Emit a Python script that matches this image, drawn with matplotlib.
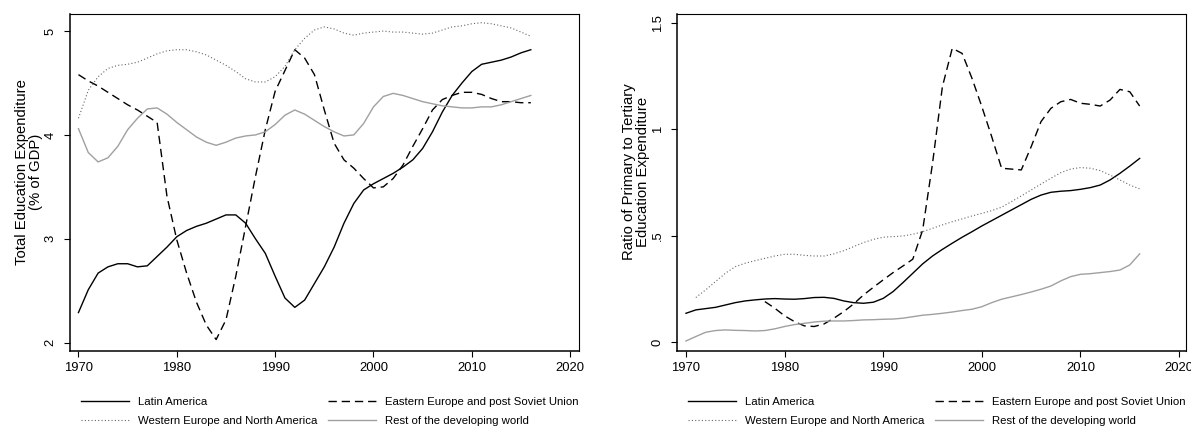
import matplotlib
matplotlib.use("Agg")
import matplotlib.pyplot as plt
import numpy as np

plt.rcParams['font.family'] = ['Liberation Sans', 'DejaVu Sans']

years = np.arange(1970, 2017)

# Left panel: total education expenditure (% of GDP)
lat_total = [2.29, 2.51, 2.67, 2.73, 2.76, 2.76, 2.73, 2.74, 2.83, 2.92,
             3.02, 3.08, 3.12, 3.15, 3.19, 3.23, 3.23, 3.15, 3.00, 2.86,
             2.64, 2.43, 2.34, 2.41, 2.57, 2.73, 2.92, 3.15, 3.34, 3.47,
             3.53, 3.58, 3.63, 3.69, 3.76, 3.87, 4.03, 4.22, 4.38, 4.50,
             4.61, 4.68, 4.70, 4.72, 4.75, 4.79, 4.82]
eeu_total = [4.58, 4.52, 4.47, 4.41, 4.35, 4.29, 4.24, 4.18, 4.12, 3.41,
             2.99, 2.67, 2.39, 2.17, 2.03, 2.22, 2.64, 3.12, 3.60, 4.05,
             4.42, 4.62, 4.82, 4.74, 4.58, 4.24, 3.92, 3.76, 3.68, 3.58,
             3.49, 3.50, 3.58, 3.71, 3.89, 4.06, 4.24, 4.34, 4.38, 4.41,
             4.41, 4.39, 4.35, 4.32, 4.32, 4.31, 4.31]
weu_total = [4.16, 4.43, 4.56, 4.64, 4.67, 4.68, 4.70, 4.74, 4.78, 4.81,
             4.82, 4.82, 4.80, 4.77, 4.72, 4.67, 4.61, 4.54, 4.51, 4.51,
             4.56, 4.66, 4.82, 4.93, 5.01, 5.04, 5.02, 4.98, 4.96, 4.98,
             4.99, 5.00, 4.99, 4.99, 4.98, 4.97, 4.98, 5.01, 5.04, 5.05,
             5.07, 5.08, 5.07, 5.05, 5.03, 4.99, 4.95]
rdw_total = [4.06, 3.83, 3.74, 3.78, 3.89, 4.05, 4.16, 4.25, 4.26, 4.20,
             4.12, 4.05, 3.98, 3.93, 3.90, 3.93, 3.97, 3.99, 4.00, 4.03,
             4.10, 4.19, 4.24, 4.20, 4.14, 4.08, 4.03, 3.99, 4.00, 4.11,
             4.27, 4.37, 4.40, 4.38, 4.35, 4.32, 4.30, 4.28, 4.27, 4.26,
             4.26, 4.27, 4.27, 4.29, 4.32, 4.35, 4.38]

# Right panel: ratio of primary to tertiary expenditure
lat_ratio = [0.136, 0.152, 0.158, 0.164, 0.175, 0.186, 0.194, 0.199, 0.203, 0.205,
             0.203, 0.202, 0.205, 0.210, 0.211, 0.206, 0.194, 0.186, 0.183, 0.188,
             0.206, 0.238, 0.280, 0.324, 0.368, 0.405, 0.436, 0.465, 0.493, 0.519,
             0.546, 0.571, 0.596, 0.621, 0.646, 0.671, 0.691, 0.704, 0.709, 0.712,
             0.718, 0.726, 0.738, 0.762, 0.793, 0.827, 0.863]
eeu_years = np.arange(1978, 2017)
eeu_ratio = [0.191, 0.160, 0.124, 0.097, 0.077, 0.074, 0.086, 0.113, 0.144, 0.180,
             0.222, 0.258, 0.293, 0.327, 0.358, 0.390, 0.527, 0.840, 1.200, 1.380,
             1.356, 1.239, 1.106, 0.965, 0.817, 0.813, 0.809, 0.918, 1.036, 1.098,
             1.129, 1.140, 1.122, 1.117, 1.109, 1.137, 1.187, 1.176, 1.109]
weu_years = np.arange(1971, 2017)
weu_ratio = [0.210, 0.246, 0.285, 0.324, 0.355, 0.371, 0.383, 0.394, 0.405,
             0.413, 0.413, 0.408, 0.405, 0.405, 0.415, 0.430, 0.449, 0.468, 0.483,
             0.493, 0.496, 0.499, 0.507, 0.519, 0.535, 0.551, 0.566, 0.579, 0.593,
             0.605, 0.618, 0.634, 0.660, 0.687, 0.715, 0.743, 0.770, 0.796, 0.813,
             0.820, 0.817, 0.806, 0.785, 0.762, 0.738, 0.720]
rdw_ratio = [0.006, 0.027, 0.047, 0.055, 0.058, 0.056, 0.055, 0.053, 0.055, 0.063,
             0.074, 0.083, 0.089, 0.095, 0.099, 0.100, 0.100, 0.102, 0.105, 0.106,
             0.108, 0.109, 0.113, 0.120, 0.127, 0.131, 0.136, 0.142, 0.149, 0.155,
             0.167, 0.186, 0.202, 0.213, 0.224, 0.236, 0.249, 0.264, 0.288, 0.308,
             0.319, 0.322, 0.327, 0.332, 0.339, 0.363, 0.415]

labels = ['Latin America', 'Western Europe and North America',
          'Eastern Europe and post Soviet Union', 'Rest of the developing world']

STYLES = {
    'lat': dict(color='black', lw=1.0, ls='-'),
    'eeu': dict(color='black', lw=1.0, ls=(0, (6, 3.5))),
    'weu': dict(color='#666666', lw=0.8, ls=(0, (1, 2))),
    'rdw': dict(color='#a0a0a0', lw=1.0, ls='-'),
}

fig = plt.figure(figsize=(11.91, 4.28), dpi=100)
ax1 = fig.add_axes([70/1191, 1-351/428, 509/1191, 337/428])
ax2 = fig.add_axes([677/1191, 1-351/428, 509/1191, 337/428])


def draw(ax, series):
    lines = {}
    for key, (x, y) in series.items():
        lines[key], = ax.plot(x, y, **STYLES[key])
    return lines


l1 = draw(ax1, {'lat': (years, lat_total), 'eeu': (years, eeu_total),
                'weu': (years, weu_total), 'rdw': (years, rdw_total)})
l2 = draw(ax2, {'lat': (years, lat_ratio), 'eeu': (eeu_years, eeu_ratio),
                'weu': (weu_years, weu_ratio), 'rdw': (years, rdw_ratio)})

ax1.set_xlim(1969.14, 2020.9)
ax1.set_ylim(1.92, 5.164)
ax1.set_yticks([2, 3, 4, 5])
ax1.set_yticklabels(['2', '3', '4', '5'])
ax1.set_ylabel('Total Education Expenditure\n(% of GDP)', fontsize=10.7, linespacing=1.0)

ax2.set_xlim(1969.09, 2020.7)
ax2.set_ylim(-0.041, 1.541)
ax2.set_yticks([0, 0.5, 1, 1.5])
ax2.set_yticklabels(['0', '.5', '1', '1.5'])
ax2.set_ylabel('Ratio of Primary to Tertiary\nEducation Expenditure', fontsize=10.7, linespacing=1.0)

for ax, ln in ((ax1, l1), (ax2, l2)):
    ax.yaxis.set_label_coords(-0.053, 0.532)
    ax.set_xticks(np.arange(1970, 2021, 10))
    ax.tick_params(axis='both', labelsize=9.4, length=4.5, width=0.8, color='black')
    ax.tick_params(axis='x', pad=3.5)
    ax.tick_params(axis='y', pad=5)
    for t in ax.get_yticklabels():
        t.set_rotation(90)
        t.set_va('center')
    for s in ax.spines.values():
        s.set_linewidth(0.8)
    ax.spines['left'].set_linewidth(1.1)
    ax.spines['bottom'].set_linewidth(1.1)
    x0 = ax.get_position().x0
    ax.legend([ln['lat'], ln['weu'], ln['eeu'], ln['rdw']], labels,
              ncol=2, frameon=False, fontsize=8.2, loc='center left',
              bbox_to_anchor=(x0 + 10.7/1191, 1-411.4/428),
              bbox_transform=fig.transFigure, borderpad=0, borderaxespad=0,
              handlelength=4.2, handletextpad=0.85, columnspacing=0.9,
              labelspacing=0.85)

fig.savefig('out.png', dpi=100)
